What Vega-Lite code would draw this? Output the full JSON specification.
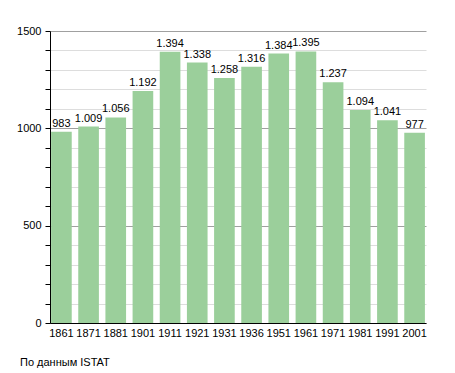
{
  "$schema": "https://vega.github.io/schema/vega-lite/v6.json",
  "autosize": "none",
  "width": 376,
  "height": 292,
  "padding": {"left": 50, "top": 31, "right": 29, "bottom": 50},
  "background": "white",
  "config": {
    "view": {"stroke": null},
    "font": "Liberation Sans",
    "locale": {"number": {"decimal": ",", "thousands": ".", "grouping": [3], "currency": ["€", ""]}}
  },
  "title": {
    "text": "По данным ISTAT",
    "orient": "bottom",
    "anchor": "start",
    "frame": "group",
    "dx": -30,
    "offset": 19,
    "fontSize": 11,
    "fontWeight": "normal",
    "color": "#000"
  },
  "data": {
    "values": [
      {"year": "1861", "pop": 983},
      {"year": "1871", "pop": 1009},
      {"year": "1881", "pop": 1056},
      {"year": "1901", "pop": 1192},
      {"year": "1911", "pop": 1394},
      {"year": "1921", "pop": 1338},
      {"year": "1931", "pop": 1258},
      {"year": "1936", "pop": 1316},
      {"year": "1951", "pop": 1384},
      {"year": "1961", "pop": 1395},
      {"year": "1971", "pop": 1237},
      {"year": "1981", "pop": 1094},
      {"year": "1991", "pop": 1041},
      {"year": "2001", "pop": 977}
    ]
  },
  "encoding": {
    "x": {
      "field": "year",
      "type": "ordinal",
      "sort": null,
      "scale": {"paddingInner": 0.24, "paddingOuter": 0.04},
      "axis": {
        "title": null,
        "labelAngle": 0,
        "ticks": false,
        "domainColor": "#000",
        "domainWidth": 1,
        "labelFontSize": 11,
        "labelColor": "#000",
        "labelPadding": 4,
        "grid": false
      }
    },
    "y": {
      "field": "pop",
      "type": "quantitative",
      "scale": {"domain": [0, 1500], "nice": false},
      "axis": {
        "title": null,
        "values": [0, 100, 200, 300, 400, 500, 600, 700, 800, 900, 1000, 1100, 1200, 1300, 1400, 1500],
        "labelExpr": "datum.value % 500 === 0 ? datum.value : ''",
        "format": "d",
        "grid": true,
        "gridColor": {"condition": {"test": "datum.value % 500 === 0", "value": "#a0a0a0"}, "value": "#dddddd"},
        "tickColor": "#000",
        "tickSize": 5,
        "domainColor": "#000",
        "labelFontSize": 11,
        "labelColor": "#000",
        "labelPadding": 4
      }
    }
  },
  "layer": [
    {"mark": {"type": "bar", "color": "#9bcf9b"}},
    {
      "mark": {"type": "text", "baseline": "bottom", "dy": -3, "fontSize": 11, "color": "#000"},
      "encoding": {"text": {"field": "pop", "type": "quantitative", "format": ",d"}}
    }
  ]
}
